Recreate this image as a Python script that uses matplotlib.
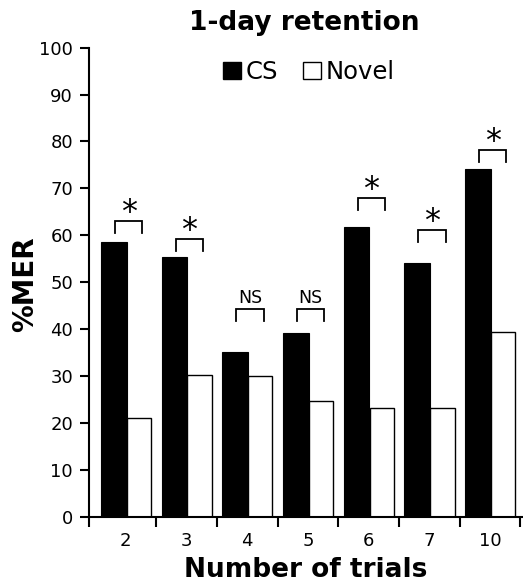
import numpy as np
import matplotlib
matplotlib.use("Agg")
import matplotlib.pyplot as plt
from matplotlib.patches import Patch

# data
trials = ["2", "3", "4", "5", "6", "7", "10"]
cs = [58.6, 55.3, 35.2, 39.1, 61.8, 54.0, 74.1]
novel = [21.0, 30.2, 30.1, 24.7, 23.2, 23.2, 39.4]
sig_labels = ["*", "*", "NS", "NS", "*", "*", "*"]
sig_heights = [63.1, 59.3, 44.3, 44.3, 67.9, 61.1, 78.2]

plt.rcParams["font.family"] = "DejaVu Sans"

fig = plt.figure(figsize=(5.23, 5.86), dpi=100)
ax = fig.add_axes([0.1702, 0.1183, 0.8298, 0.8003])

x = np.arange(len(trials))

# bars
ax.bar(x - 0.2, cs, width=0.425, color="black", edgecolor="black", linewidth=0.8)
ax.bar(x + 0.215, novel, width=0.40, color="white", edgecolor="black", linewidth=1.0)

# significance brackets
for xi, h, lab in zip(x, sig_heights, sig_labels):
    x0, x1 = xi - 0.18, xi + 0.27
    ax.plot([x0, x0, x1, x1], [h - 2.6, h, h, h - 2.6], color="black",
            lw=1.3, solid_joinstyle="miter", clip_on=False)
    if lab == "*":
        ax.annotate(lab, (xi + 0.045, h), xytext=(0, 0), textcoords="offset points",
                    ha="center", va="baseline", fontsize=23)
    else:
        ax.annotate(lab, (xi + 0.045, h), xytext=(0, 4), textcoords="offset points",
                    ha="center", va="baseline", fontsize=12.5)

ax.set_xlim(-0.607, 6.543)
ax.set_ylim(0, 100)

# axes style
for s in ["top", "right"]:
    ax.spines[s].set_visible(False)
ax.spines["left"].set_linewidth(1.5)
ax.spines["bottom"].set_linewidth(1.5)

ax.set_yticks(np.arange(0, 101, 10))
ax.tick_params(axis="y", length=6.5, width=1.5, labelsize=13, pad=5)

ax.set_xticks(x)
ax.set_xticklabels(trials)
ax.tick_params(axis="x", which="major", length=0, labelsize=13, pad=11)
ax.set_xticks([-0.607] + list(np.arange(0.5, 7.0, 1.0)), minor=True)
ax.tick_params(axis="x", which="minor", length=7.5, width=1.5, direction="out")

# legend
handles = [Patch(facecolor="black", edgecolor="black"),
           Patch(facecolor="white", edgecolor="black", linewidth=1.0)]
fig.legend(handles, ["CS", "Novel"], ncol=2, frameon=False, fontsize=17.5,
           loc="center", bbox_to_anchor=(309 / 523, 1 - 72 / 586),
           handlelength=0.75, handleheight=0.75, handletextpad=0.2,
           columnspacing=1.0, borderpad=0, borderaxespad=0)

# titles and labels
fig.text(304 / 523, 1 - 23 / 586, "1-day retention", ha="center", va="center",
         fontsize=19, fontweight="bold")
fig.text(306 / 523, 1 - 570 / 586, "Number of trials", ha="center", va="center",
         fontsize=19, fontweight="bold")
fig.text(25 / 523, 1 - 284 / 586, "%MER", ha="center", va="center",
         rotation=90, fontsize=20, fontweight="bold")

fig.savefig("out.png", dpi=100)
